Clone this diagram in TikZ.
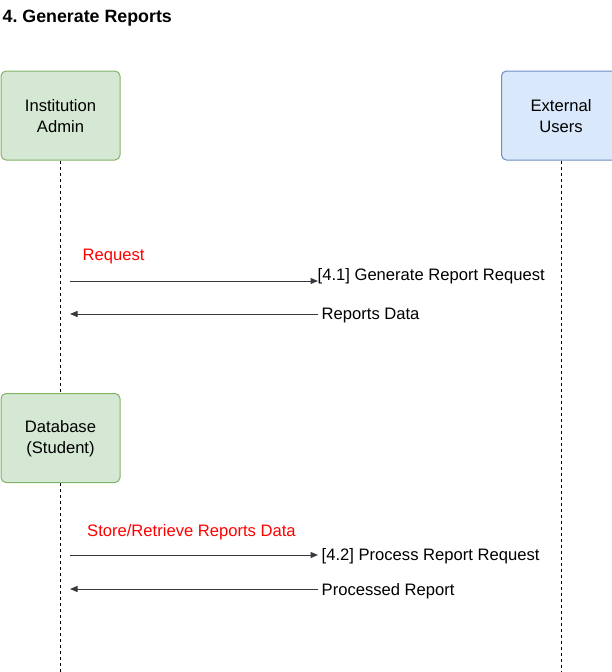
\documentclass[tikz,border=0pt]{standalone}
\usepackage{fontspec}
\setmainfont{Liberation Sans}
\usetikzlibrary{arrows.meta}
\frenchspacing
\definecolor{gfill}{HTML}{D5E8D4}
\definecolor{gdraw}{HTML}{82B366}
\definecolor{bfill}{HTML}{DAE8FC}
\definecolor{bdraw}{HTML}{6C8EBF}
\definecolor{msgcol}{HTML}{36393D}
\definecolor{redtxt}{HTML}{FF0000}
\tikzset{
  actorbox/.style={draw, line width=1pt, rounded corners=5pt, minimum width=119pt, minimum height=89pt, inner sep=0pt},
  greenbox/.style={actorbox, draw=gdraw, fill=gfill},
  bluebox/.style={actorbox, draw=bdraw, fill=bfill},
  actortext/.style={inner sep=0pt, align=center, font=\fontsize{16.6}{20.5}\selectfont},
  msgtext/.style={inner sep=0pt, anchor=base west, font=\fontsize{16.6}{20.5}\selectfont},
  redlabel/.style={msgtext, text=redtxt},
  lifeline/.style={line width=1pt, dash pattern=on 3pt off 3pt},
  msg/.style={draw=msgcol, line width=1pt, -{Triangle[length=7.5pt,width=6pt]}},
}
\begin{document}
\begin{tikzpicture}[x=1pt,y=-1pt]
\useasboundingbox (0,0) rectangle (611,672);
% lifelines
\coordinate (iaEnd) at (60.5,392);
\coordinate (dbEnd) at (60.5,672);
\coordinate (euEnd) at (561,672);
% title
\node[inner sep=0pt, anchor=base west, font=\fontsize{17.8}{21}\selectfont\bfseries] (title) at (2.5,22.3) {4. Generate Reports};
% actors
\node[greenbox] (ia) at (60.5,115.5) {};
\node[bluebox] (eu) at (561,115.5) {};
\node[greenbox] (db) at (60.5,438) {};
\node[actortext] (iat) at ([yshift=-0.5pt]ia.center) {Institution\\Admin};
\node[actortext] (eut) at ([yshift=-0.5pt]eu.center) {External\\Users};
\node[actortext] (dbt) at ([yshift=-0.5pt]db.center) {Database\\(Student)};
\draw[lifeline] (ia.south) -- (iaEnd);
\draw[lifeline] (db.south) -- (dbEnd);
\draw[lifeline] (eu.south) -- (euEnd);
% message anchors
\coordinate (m1s) at (70,281);
\coordinate (m1e) at (318,281);
\coordinate (m2s) at (318,314);
\coordinate (m2e) at (70,314);
\coordinate (m3s) at (70,555);
\coordinate (m3e) at (318,555);
\coordinate (m4s) at (318,589);
\coordinate (m4e) at (70,589);
\draw[msg] (m1s) -- (m1e);
\draw[msg] (m2s) -- (m2e);
\draw[msg] (m3s) -- (m3e);
\draw[msg] (m4s) -- (m4e);
% labels
\node[redlabel] (l1r) at (82.5,260.7) {Request};
\node[msgtext] (l1) at (317.5,280) {[4.1] Generate Report Request};
\node[msgtext] (l2) at (321.5,319.5) {Reports Data};
\node[redlabel] (l3r) at (87,536) {Store/Retrieve Reports Data};
\node[msgtext] (l3) at (321.5,560.5) {[4.2] Process Report Request};
\node[msgtext] (l4) at (321.5,595) {Processed Report};
\end{tikzpicture}
\end{document}
